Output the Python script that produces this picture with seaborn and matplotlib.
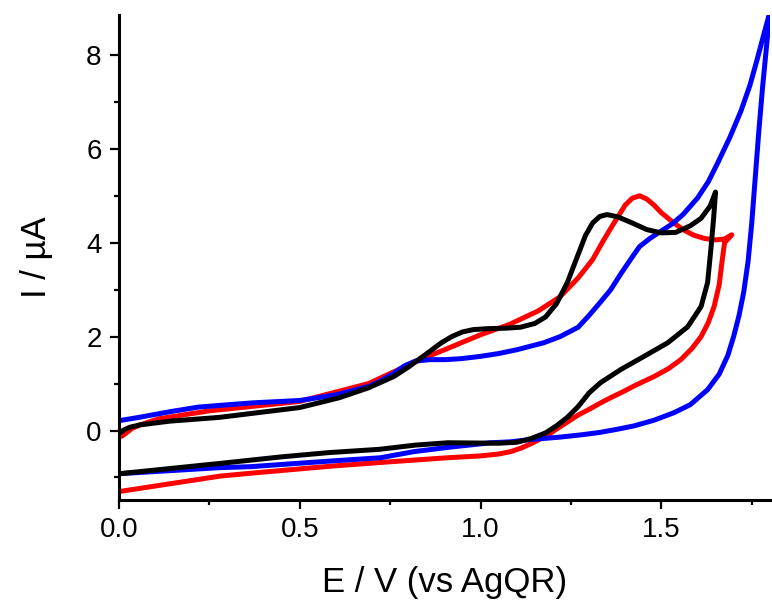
import numpy as np
import pandas as pd
import matplotlib
matplotlib.use("Agg")
import matplotlib.pyplot as plt
import seaborn as sns
from matplotlib.ticker import MultipleLocator

# Voltammogrammes (aller puis retour)
red_E = [0.0, 0.01, 0.02, 0.035, 0.058, 0.11, 0.25, 0.5, 0.69, 0.76, 0.83, 0.9, 1.0, 1.08,
         1.16, 1.22, 1.27, 1.31, 1.34, 1.37, 1.40, 1.42, 1.44, 1.46, 1.48, 1.50, 1.53, 1.56,
         1.59, 1.62, 1.65, 1.675, 1.695,
         1.675, 1.668, 1.66, 1.646, 1.63, 1.61, 1.585, 1.554, 1.52, 1.48, 1.43, 1.39, 1.36,
         1.33, 1.30, 1.27, 1.24, 1.21, 1.185, 1.16, 1.14, 1.11, 1.083, 1.05, 1.0, 0.908,
         0.815, 0.723, 0.584, 0.363, 0.28, 0.0]
red_I = [-0.14, -0.11, -0.05, 0.04, 0.12, 0.25, 0.42, 0.62, 1.0, 1.25, 1.5, 1.72, 2.04, 2.26,
         2.55, 2.85, 3.25, 3.64, 4.05, 4.43, 4.80, 4.95, 5.0, 4.93, 4.80, 4.64, 4.45, 4.28,
         4.16, 4.09, 4.06, 4.08, 4.17,
         4.0, 3.6, 3.1, 2.64, 2.3, 2.0, 1.75, 1.51, 1.32, 1.15, 0.97, 0.81, 0.70,
         0.58, 0.45, 0.33, 0.18, 0.03, -0.10, -0.20, -0.28, -0.38, -0.45, -0.50, -0.54, -0.58,
         -0.63, -0.68, -0.76, -0.91, -0.97, -1.30]

blue_E = [0.0, 0.055, 0.14, 0.22, 0.37, 0.50, 0.60, 0.69, 0.72, 0.76, 0.79, 0.82, 0.86, 0.90,
          0.945, 1.0, 1.05, 1.10, 1.14, 1.175, 1.22, 1.27, 1.30, 1.33, 1.36, 1.39, 1.42, 1.44,
          1.47, 1.50, 1.53, 1.56, 1.60, 1.63, 1.656, 1.69, 1.72, 1.745, 1.765, 1.784, 1.80,
          1.79, 1.78, 1.77, 1.76, 1.75, 1.74, 1.728, 1.715, 1.70, 1.684, 1.66, 1.628, 1.58,
          1.535, 1.48, 1.425, 1.38, 1.33, 1.28, 1.22, 1.14, 1.083, 1.028, 0.908, 0.815,
          0.723, 0.584, 0.363, 0.28, 0.0]
blue_I = [0.21, 0.28, 0.40, 0.50, 0.59, 0.64, 0.76, 0.94, 1.04, 1.22, 1.38, 1.48, 1.51, 1.51,
          1.53, 1.58, 1.64, 1.72, 1.80, 1.87, 2.0, 2.2, 2.45, 2.72, 3.0, 3.36, 3.70, 3.92,
          4.10, 4.25, 4.40, 4.60, 4.95, 5.30, 5.70, 6.25, 6.80, 7.35, 7.90, 8.45, 8.9,
          8.1, 7.3, 6.4, 5.4, 4.4, 3.6, 2.95, 2.45, 2.0, 1.6, 1.2, 0.87, 0.55,
          0.38, 0.22, 0.10, 0.03, -0.04, -0.09, -0.14, -0.19, -0.24, -0.26, -0.36, -0.45,
          -0.58, -0.65, -0.77, -0.79, -0.92]

black_E = [0.0, 0.015, 0.03, 0.058, 0.14, 0.277, 0.5, 0.61, 0.69, 0.76, 0.80, 0.85, 0.89,
           0.92, 0.95, 0.98, 1.02, 1.07, 1.11, 1.15, 1.18, 1.21, 1.24, 1.27, 1.29, 1.31,
           1.33, 1.35, 1.38, 1.42, 1.46, 1.50, 1.54, 1.58, 1.61, 1.635, 1.65,
           1.645, 1.637, 1.628, 1.61, 1.573, 1.518, 1.45, 1.388, 1.332, 1.30, 1.27, 1.24,
           1.21, 1.18, 1.14, 1.10, 1.05, 0.91, 0.82, 0.72, 0.58, 0.45, 0.28, 0.0]
black_I = [-0.06, 0.02, 0.07, 0.12, 0.20, 0.28, 0.49, 0.70, 0.91, 1.15, 1.35, 1.63, 1.86,
           2.0, 2.10, 2.15, 2.17, 2.18, 2.20, 2.28, 2.42, 2.70, 3.15, 3.75, 4.15, 4.42,
           4.56, 4.60, 4.55, 4.42, 4.28, 4.21, 4.22, 4.36, 4.52, 4.78, 5.08,
           4.55, 3.85, 3.15, 2.64, 2.21, 1.87, 1.57, 1.30, 1.02, 0.80, 0.51, 0.28,
           0.10, -0.05, -0.17, -0.25, -0.27, -0.26, -0.31, -0.40, -0.47, -0.56, -0.70, -0.92]

frames = []
for name, E, I in [("rouge", red_E, red_I), ("bleu", blue_E, blue_I), ("noir", black_E, black_I)]:
    frames.append(pd.DataFrame({"E": E, "I": I, "scan": name}))
df = pd.concat(frames, ignore_index=True)

sns.set_style("ticks")
plt.rcParams['font.family'] = ['Liberation Sans', 'DejaVu Sans']
plt.rcParams['text.color'] = 'black'
plt.rcParams['axes.labelcolor'] = 'black'

fig = plt.figure(figsize=(7.72, 6.01), dpi=100)
ax = fig.add_axes([0.1541, 0.168, 0.843, 0.807])

sns.lineplot(data=df, x="E", y="I", hue="scan", sort=False, estimator=None,
             palette={"rouge": "#ff0000", "bleu": "#0000ff", "noir": "#000000"},
             hue_order=["rouge", "bleu", "noir"], lw=3.6, legend=False, ax=ax,
             solid_capstyle="round", solid_joinstyle="round")

ax.set_xlim(0, 1.8)
ax.set_ylim(-1.48, 8.85)
ax.xaxis.set_major_locator(MultipleLocator(0.5))
ax.xaxis.set_minor_locator(MultipleLocator(0.25))
ax.yaxis.set_major_locator(MultipleLocator(2))
ax.yaxis.set_minor_locator(MultipleLocator(1))

sns.despine(ax=ax)
for s in ["left", "bottom"]:
    ax.spines[s].set_linewidth(2.2)
    ax.spines[s].set_color("black")
ax.tick_params(which="major", direction="out", length=6.5, width=1.6, labelsize=20,
               pad=6, colors="black")
ax.tick_params(which="minor", direction="out", length=3.5, width=1.6, colors="black")

ax.set_xlabel("E / V (vs AgQR)", fontsize=25, labelpad=16)
ax.set_ylabel("I / µA", fontsize=25, labelpad=24)

fig.savefig("out.png", dpi=100)
